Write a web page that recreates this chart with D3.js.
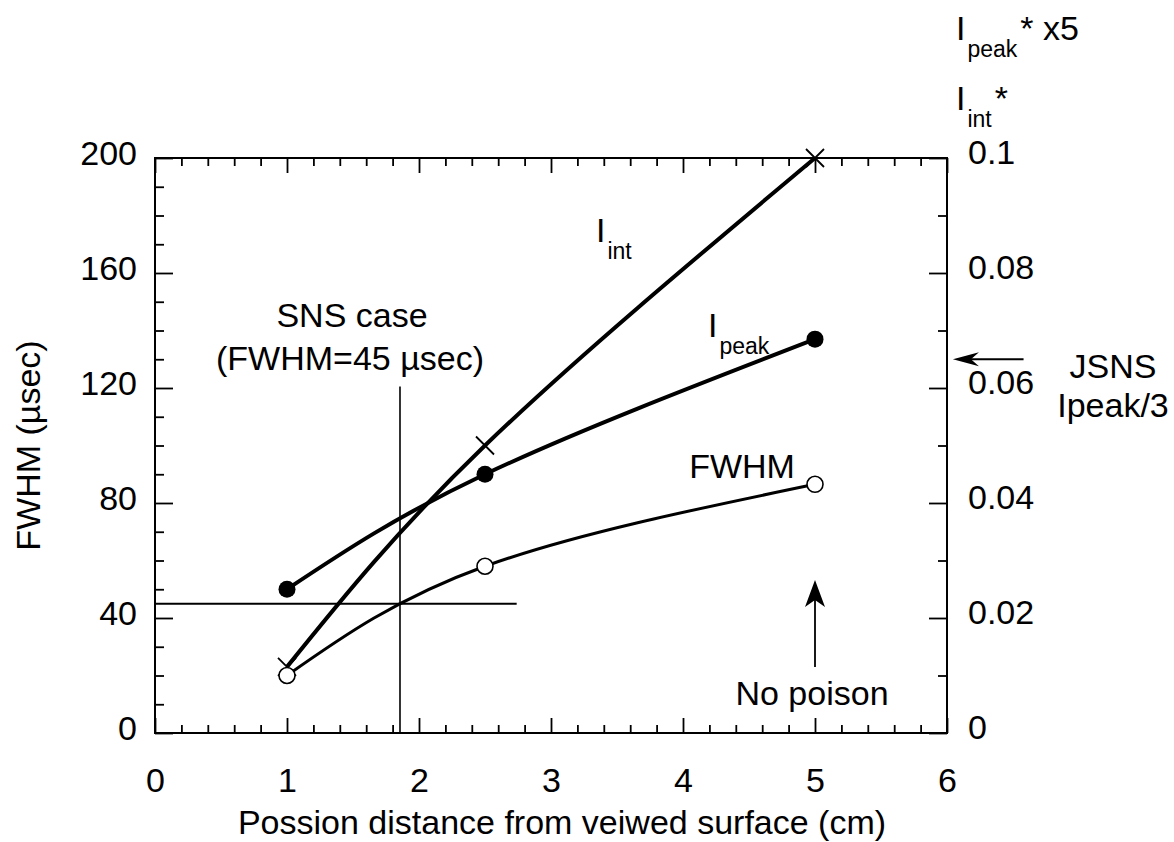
<!DOCTYPE html>
<html>
<head>
<meta charset="utf-8">
<script src="https://cdn.jsdelivr.net/npm/d3@7"></script>
<style>
  html, body { margin: 0; padding: 0; background: #fff; }
  svg text { font-family: "Liberation Sans", Arial, Helvetica, sans-serif; fill: #000; }
</style>
</head>
<body>
<svg id="chart" width="1174" height="842"></svg>
<script>
// ---- data ----
const xVals = [1, 2.5, 5];
const fwhmVals = [20, 58, 86.5];
const ipeakVals = [50, 90, 137];
const iintVals = [23, 100, 200];
const xTicks = [0, 1, 2, 3, 4, 5, 6];
const yTicks = [0, 40, 80, 120, 160, 200];
const y2Ticks = [0, 0.02, 0.04, 0.06, 0.08, 0.1];
const snsX = 1.856;      // SNS case position
const snsFWHM = 45;      // SNS FWHM (usec)
const jsnsIpeak3 = 0.065; // JSNS Ipeak/3 on right axis

// ---- layout ----
const svg = d3.select("#chart");
const L = 155, R = 947, T = 158, B = 733;
const x = d3.scaleLinear().domain([0, 6]).range([L, R]);
const y = d3.scaleLinear().domain([0, 200]).range([B, T]);
const y2 = d3.scaleLinear().domain([0, 0.1]).range([B, T]);
const FS = 34;

function styleAxis(g) {
  g.select(".domain").remove();
  g.selectAll(".tick line").attr("stroke", "#000").attr("stroke-width", 1.8);
  g.selectAll("text").style("font-size", FS + "px").attr("fill", "#000");
}

// minor ticks
const xMinor = d3.range(0, 6.0001, 0.2).map(d => +d.toFixed(2)).filter(d => Math.abs(d - Math.round(d)) > 1e-6);
const yMinor = d3.range(0, 200.001, 10).filter(d => d % 40 !== 0);
const y2Minor = d3.range(0, 0.10001, 0.01).map(d => +d.toFixed(3)).filter(d => Math.round(d * 1000) % 20 !== 0);

// bottom
svg.append("g").attr("transform", `translate(0,${B})`)
  .call(d3.axisBottom(x).tickValues(xTicks).tickSizeInner(-15).tickSizeOuter(0).tickPadding(35).tickFormat(d3.format("d")))
  .call(styleAxis);
svg.append("g").attr("transform", `translate(0,${B})`)
  .call(d3.axisBottom(x).tickValues(xMinor).tickSizeInner(-8).tickSizeOuter(0).tickFormat(""))
  .call(styleAxis);
// top
svg.append("g").attr("transform", `translate(0,${T})`)
  .call(d3.axisTop(x).tickValues(xTicks).tickSizeInner(-15).tickSizeOuter(0).tickFormat(""))
  .call(styleAxis);
svg.append("g").attr("transform", `translate(0,${T})`)
  .call(d3.axisTop(x).tickValues(xMinor).tickSizeInner(-8).tickSizeOuter(0).tickFormat(""))
  .call(styleAxis);
// left
const gl = svg.append("g").attr("transform", `translate(${L},0)`)
  .call(d3.axisLeft(y).tickValues(yTicks).tickSizeInner(-18).tickSizeOuter(0).tickPadding(18).tickFormat(d3.format("d")))
  .call(styleAxis);
gl.selectAll("text").attr("dy", "0.2em");
svg.append("g").attr("transform", `translate(${L},0)`)
  .call(d3.axisLeft(y).tickValues(yMinor).tickSizeInner(-9).tickSizeOuter(0).tickFormat(""))
  .call(styleAxis);
// right
const gr = svg.append("g").attr("transform", `translate(${R},0)`)
  .call(d3.axisRight(y2).tickValues(y2Ticks).tickSizeInner(-18).tickSizeOuter(0).tickPadding(21).tickFormat(d => String(d)))
  .call(styleAxis);
gr.selectAll("text").attr("dy", "0.15em");
svg.append("g").attr("transform", `translate(${R},0)`)
  .call(d3.axisRight(y2).tickValues(y2Minor).tickSizeInner(-9).tickSizeOuter(0).tickFormat(""))
  .call(styleAxis);

// frame
svg.append("rect").attr("x", L).attr("y", T).attr("width", R - L).attr("height", B - T)
  .attr("fill", "none").attr("stroke", "#000").attr("stroke-width", 2);

// axis titles
svg.append("text").attr("x", 562).attr("y", 834).attr("text-anchor", "middle")
  .style("font-size", FS + "px").text("Possion distance from veiwed surface (cm)");
svg.append("text").attr("transform", `translate(40,${(T + B) / 2}) rotate(-90)`).attr("text-anchor", "middle")
  .style("font-size", FS + "px").text("FWHM (\u00b5sec)");

// SNS reference lines
svg.append("line").attr("x1", x(0)).attr("x2", x(2.74)).attr("y1", y(snsFWHM)).attr("y2", y(snsFWHM))
  .attr("stroke", "#000").attr("stroke-width", 2);
svg.append("line").attr("x1", x(snsX)).attr("x2", x(snsX)).attr("y1", y(0)).attr("y2", y(120.5))
  .attr("stroke", "#000").attr("stroke-width", 1.6);

// curves
const line = d3.line().curve(d3.curveNatural).x(d => x(d[0])).y(d => y(d[1]));
const ser = vals => xVals.map((xv, i) => [xv, vals[i]]);
svg.append("path").attr("d", line(ser(iintVals))).attr("fill", "none").attr("stroke", "#000").attr("stroke-width", 4);
svg.append("path").attr("d", line(ser(ipeakVals))).attr("fill", "none").attr("stroke", "#000").attr("stroke-width", 4);
svg.append("path").attr("d", line(ser(fwhmVals))).attr("fill", "none").attr("stroke", "#000").attr("stroke-width", 3);

// markers
const s = 9;
svg.append("g").selectAll("path").data(ser(iintVals)).join("path")
  .attr("d", d => `M${x(d[0]) - s},${y(d[1]) - s}L${x(d[0]) + s},${y(d[1]) + s}M${x(d[0]) - s},${y(d[1]) + s}L${x(d[0]) + s},${y(d[1]) - s}`)
  .attr("stroke", "#000").attr("stroke-width", 1.8).attr("fill", "none");
svg.append("g").selectAll("circle").data(ser(ipeakVals)).join("circle")
  .attr("cx", d => x(d[0])).attr("cy", d => y(d[1])).attr("r", 8.5).attr("fill", "#000");
svg.append("g").selectAll("circle").data(ser(fwhmVals)).join("circle")
  .attr("cx", d => x(d[0])).attr("cy", d => y(d[1])).attr("r", 8).attr("fill", "#fff")
  .attr("stroke", "#000").attr("stroke-width", 1.6);

// labels
function subLabel(px, py, main, sub, star) {
  const t = svg.append("text").attr("x", px).attr("y", py).style("font-size", FS + "px");
  t.append("tspan").text(main);
  t.append("tspan").attr("dx", 2).attr("dy", 17).style("font-size", "23px").text(sub);
  if (star) t.append("tspan").attr("dx", 3).attr("dy", -17).text(star);
  return t;
}
subLabel(596, 242, "I", "int");
subLabel(708, 337, "I", "peak");
svg.append("text").attr("x", 742).attr("y", 478).attr("text-anchor", "middle").style("font-size", FS + "px").text("FWHM");
svg.append("text").attr("x", 812).attr("y", 705).attr("text-anchor", "middle").style("font-size", FS + "px").text("No poison");
svg.append("text").attr("x", 352).attr("y", 327).attr("text-anchor", "middle").style("font-size", FS + "px").text("SNS case");
svg.append("text").attr("x", 350).attr("y", 370).attr("text-anchor", "middle").style("font-size", FS + "px").text("(FWHM=45 \u00b5sec)");

// right-side labels
subLabel(956, 40, "I", "peak", "* x5");
subLabel(956, 110, "I", "int", "*");
svg.append("text").attr("x", 1113).attr("y", 378).attr("text-anchor", "middle").style("font-size", FS + "px").text("JSNS");
svg.append("text").attr("x", 1113).attr("y", 417).attr("text-anchor", "middle").style("font-size", FS + "px").text("Ipeak/3");

// arrows
const ya = y2(jsnsIpeak3);
const xa0 = x(6.58), xa1 = x(6.045);
svg.append("line").attr("x1", xa0).attr("x2", xa1 + 10).attr("y1", ya).attr("y2", ya).attr("stroke", "#000").attr("stroke-width", 1.8);
svg.append("path").attr("d", `M${xa1},${ya}L${xa1 + 26},${ya - 7}L${xa1 + 18},${ya}L${xa1 + 26},${ya + 7}Z`).attr("fill", "#000");

const xu = x(5), yu0 = y(23), yu1 = y(53.2);
svg.append("line").attr("x1", xu).attr("x2", xu).attr("y1", yu0).attr("y2", yu1 + 10).attr("stroke", "#000").attr("stroke-width", 1.8);
svg.append("path").attr("d", `M${xu},${yu1}L${xu + 10},${yu1 + 27}L${xu},${yu1 + 20}L${xu - 10},${yu1 + 27}Z`).attr("fill", "#000");
</script>
</body>
</html>
